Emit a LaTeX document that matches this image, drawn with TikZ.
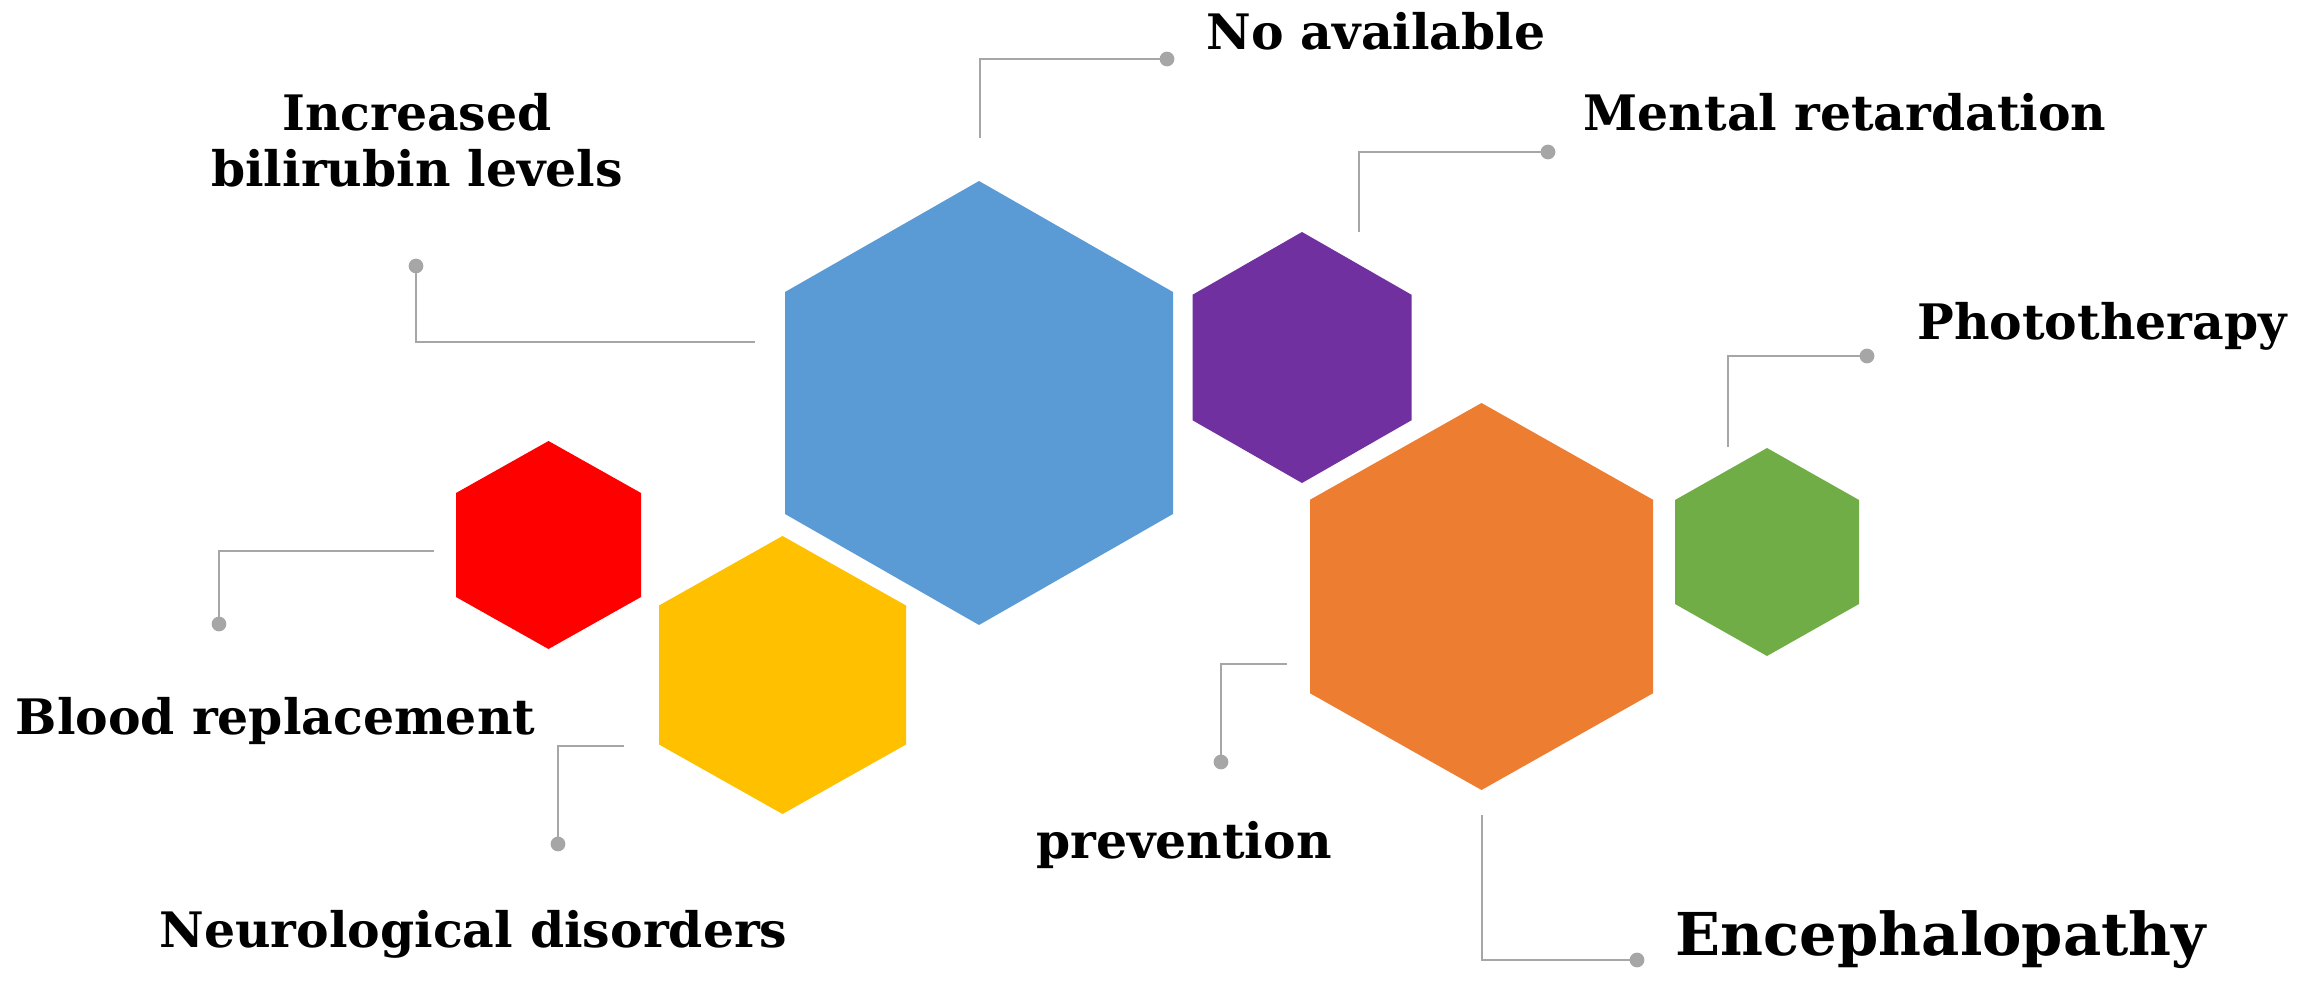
\documentclass[tikz,border=0pt]{standalone}
\usepackage{fontspec}
\setmainfont{DejaVu Serif}
\definecolor{cblue}{HTML}{5B9BD5}
\definecolor{cpurple}{HTML}{7030A0}
\definecolor{cred}{HTML}{FF0000}
\definecolor{cyellow}{HTML}{FFC000}
\definecolor{corange}{HTML}{ED7D31}
\definecolor{cgreen}{HTML}{70AD47}
\definecolor{cgrey}{HTML}{A6A6A6}
\begin{document}
\begin{tikzpicture}[x=0.01cm,y=-0.01cm,
  lbl/.style={font=\bfseries\fontsize{13.9pt}{16pt}\selectfont, inner sep=0pt, anchor=base, align=center},
  biglbl/.style={font=\bfseries\fontsize{16.8pt}{19pt}\selectfont, inner sep=0pt, anchor=base},
  conn/.style={draw=cgrey, line width=0.6pt},
  dotc/.style={fill=cgrey, draw=none}]
\useasboundingbox (0,0) rectangle (2321,985);
% hexagons: center, R (half height), w (half width)
\foreach \name/\cx/\cy/\R/\w/\col in {
  blue/979/403/222/194/cblue,
  purple/1302/357.5/125.5/109.5/cpurple,
  red/548.5/545/104/92.5/cred,
  yellow/782.5/675/139/123.5/cyellow,
  orange/1481.5/596.5/193.5/171.5/corange,
  green/1767/552/104/92/cgreen}{
  \coordinate (\name) at (\cx,\cy);
  \fill[\col] (\cx,\cy-\R) -- (\cx+\w,\cy-\R/2) -- (\cx+\w,\cy+\R/2) -- (\cx,\cy+\R)
     -- (\cx-\w,\cy+\R/2) -- (\cx-\w,\cy-\R/2) -- cycle;
}
% connector endpoints
\coordinate (a1) at (980,138);  \coordinate (d1) at (1167,59);
\coordinate (a2) at (1359,232); \coordinate (d2) at (1548,152);
\coordinate (a3) at (1728,447); \coordinate (d3) at (1867,356);
\coordinate (a4) at (755,342);  \coordinate (d4) at (416,266);
\coordinate (a5) at (434,551);  \coordinate (d5) at (219,624);
\coordinate (a6) at (624,746);  \coordinate (d6) at (558,844);
\coordinate (a7) at (1287,664); \coordinate (d7) at (1221,762);
\coordinate (a8) at (1482,815); \coordinate (d8) at (1637,960);
\draw[conn] (a1) |- (d1);
\draw[conn] (a2) |- (d2);
\draw[conn] (a3) |- (d3);
\draw[conn] (a4) -| (d4);
\draw[conn] (a5) -| (d5);
\draw[conn] (a6) -| (d6);
\draw[conn] (a7) -| (d7);
\draw[conn] (a8) |- (d8);
\foreach \d in {d1,d2,d3,d4,d5,d6,d7,d8}{\fill[dotc] (\d) circle (2.1pt);}
% labels
\node[lbl] (t1) at (1376,50) {No available};
\node[lbl] (t2) at (1845,131) {Mental retardation};
\node[lbl] (t3) at (2102,339) {Phototherapy};
\node[lbl] (t4a) at (417,131) {Increased};
\node[lbl] (t4b) at (417,187) {bilirubin levels};
\node[lbl] (t5) at (275.5,734) {Blood replacement};
\node[lbl] (t6) at (473.5,947) {Neurological disorders};
\node[lbl] (t7) at (1184,858) {prevention};
\node[biglbl] (t8) at (1941,955) {Encephalopathy};
\end{tikzpicture}
\end{document}
